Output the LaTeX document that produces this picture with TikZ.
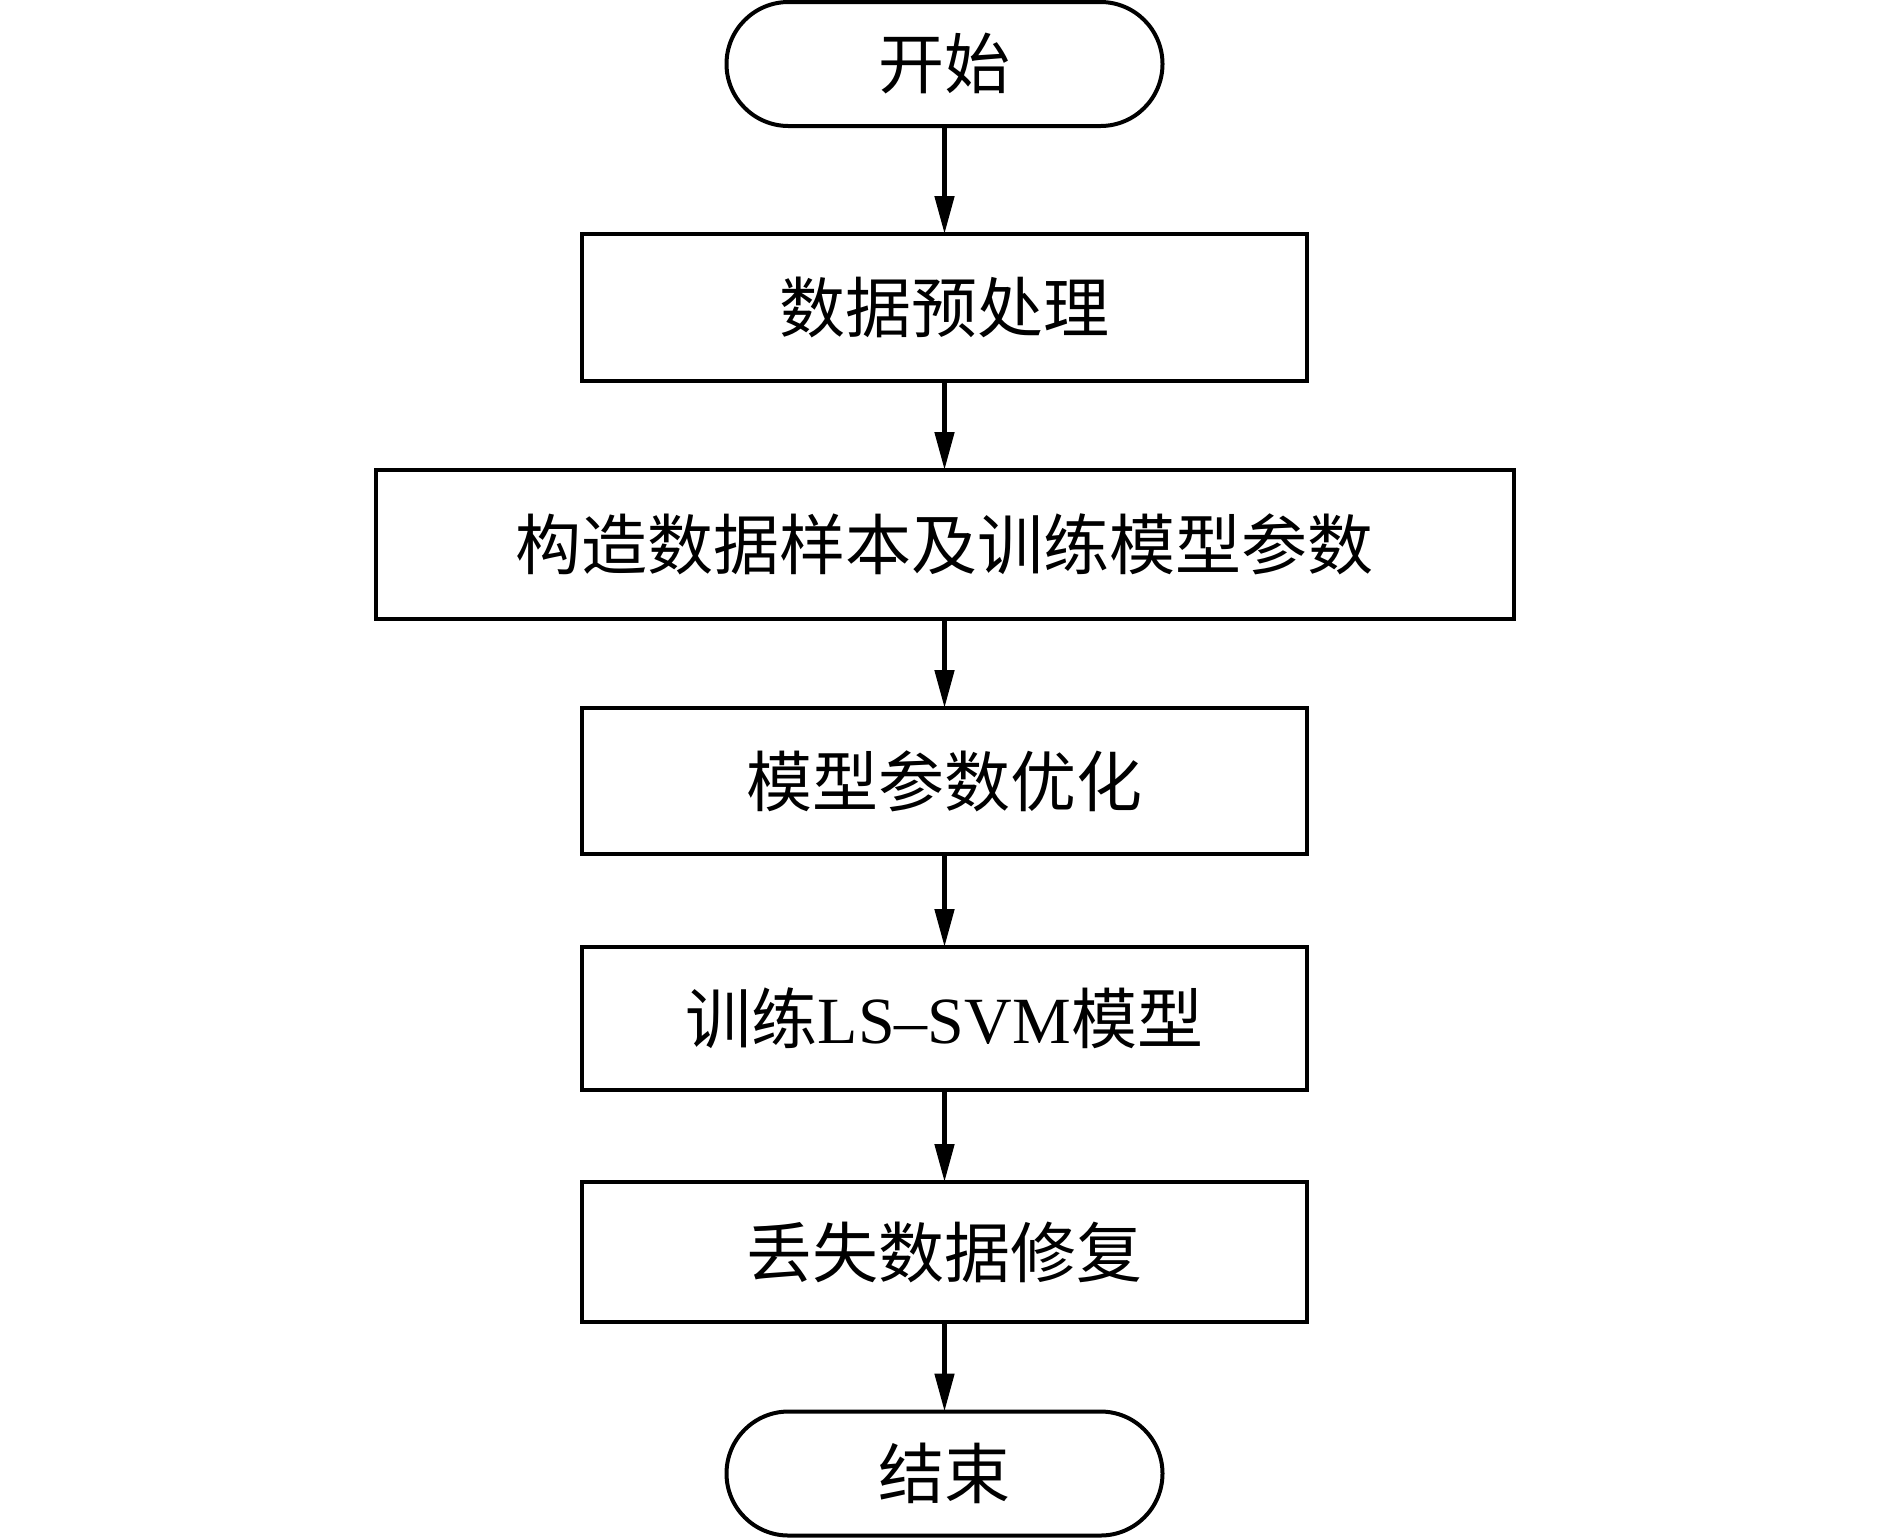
\documentclass[tikz,border=0pt]{standalone}
\usepackage{fontspec}
\setmainfont{Liberation Serif}
\newfontfamily\cjk{Noto Sans CJK SC}
\usetikzlibrary{arrows.meta}
\tikzset{
  base/.style={draw, line width=2pt, inner sep=0pt, outer sep=0pt, font=\cjk\fontsize{33}{36}\selectfont, align=center},
  term/.style={base, minimum width=218pt, minimum height=62pt, rounded corners=31pt},
  procbox/.style={base, minimum width=362.5pt},
  flow/.style={line width=2.4pt, -{Triangle[length=19pt,width=9.5pt]}}
}
\begin{document}
\begin{tikzpicture}[x=0.5pt,y=-0.5pt]
\useasboundingbox (0,0) rectangle (1889,1538);
\node[term] (s) at (944.5,64) {开始};
\node[procbox, minimum height=73.5pt] (b1) at (944.5,307.5) {数据预处理};
\node[procbox, minimum width=569pt, minimum height=74.5pt] (b2) at (944.5,544.5) {构造数据样本及训练模型参数};
\node[procbox, minimum height=73pt] (b3) at (944.5,781) {模型参数优化};
\node[procbox, minimum height=71.5pt] (b4) at (944.5,1018.5) {训练{\rmfamily LS–SVM}模型};
\node[procbox, minimum height=70pt] (b5) at (944.5,1252) {丢失数据修复};
\node[term] (e) at (944.5,1473.5) {结束};
\draw[flow] (s) -- (b1);
\draw[flow] (b1) -- (b2);
\draw[flow] (b2) -- (b3);
\draw[flow] (b3) -- (b4);
\draw[flow] (b4) -- (b5);
\draw[flow] (b5) -- (e);
\end{tikzpicture}
\end{document}
